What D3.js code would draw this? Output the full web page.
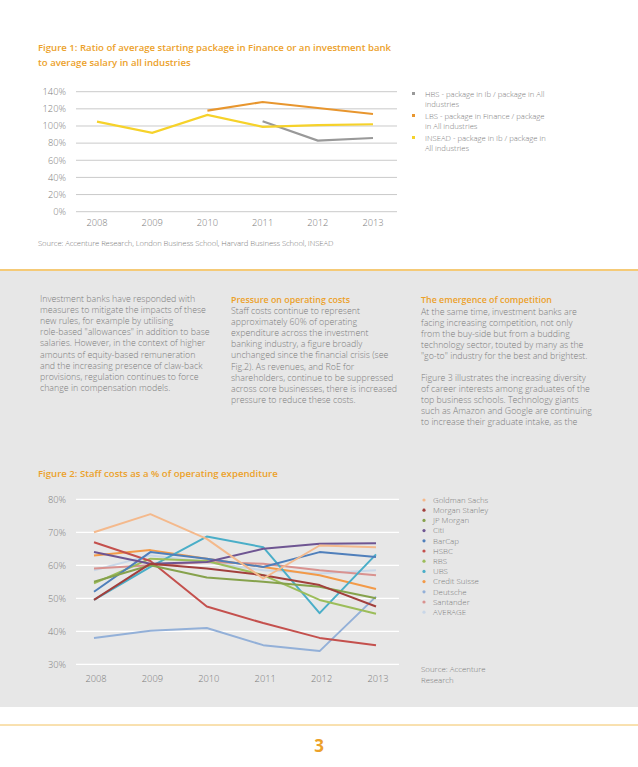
<!DOCTYPE html>
<html>
<head>
<meta charset="utf-8">
<script src="https://cdn.jsdelivr.net/npm/d3@7"></script>
<style>
  body { margin: 0; background: #fff; }
  svg { display: block; font-family: 'Open Sans', sans-serif; }
</style>
</head>
<body>
<script>
// figure 1 data
const years = [2008, 2009, 2010, 2011, 2012, 2013]
const fig1Ticks = [0, 20, 40, 60, 80, 100, 120, 140]
const hbs = [null, null, null, 105.5, 83, 86]
const lbs = [null, null, 118, 128, 121, 114]
const insead = [105, 92, 113, 99, 101, 102]
const fig1Names = ['HBS - package in Ib / package in All|industries',
  'LBS - package in Finance / package|in All industries',
  'INSEAD - package in Ib / package in|All industries']

// figure 2 data
const fig2Ticks = [30, 40, 50, 60, 70, 80]
const banks = ['Goldman Sachs', 'Morgan Stanley', 'JP Morgan', 'Citi', 'BarCap', 'HSBC',
  'RBS', 'UBS', 'Credit Suisse', 'Deutsche', 'Santander', 'AVERAGE']
const goldman = [70, 75.5, 68, 56, 66, 65.5]
const morgan = [49.5, 60.5, 59, 57, 54, 47.5]
const jpm = [55, 60, 56.3, 55, 53.5, 50]
const citi = [64, 60.5, 61, 65, 66.5, 66.7]
const barcap = [52, 64, 62, 59.5, 64, 62.5]
const hsbc = [67, 61.3, 47.5, 42.5, 38, 35.8]
const rbs = [54.5, 62, 61.3, 57, 49.5, 45.3]
const ubs = [49.5, 59.5, 68.7, 65.5, 45.5, 63.3]
const cs = [63, 64.6, 62, 59.5, 57, 52.8]
const deutsche = [38, 40.2, 41, 35.8, 34, 50.5]
const santander = [59, 60, 61, 60.5, 58.5, 57]
const average = [58.5, 63, 61, 58.5, 57.5, 58.5]

const orange = '#eca12a'
const textGray = '#7c7c7c'

const svg = d3.select('body').append('svg')
  .attr('width', 638).attr('height', 767)

// page backgrounds
svg.append('rect').attr('x', 0).attr('y', 271).attr('width', 638).attr('height', 436).attr('fill', '#e7e7e7')
svg.append('line').attr('x1', 0).attr('x2', 638).attr('y1', 270).attr('y2', 270)
  .attr('stroke', '#f2b84a').attr('stroke-width', 1.5)
svg.append('line').attr('x1', 0).attr('x2', 638).attr('y1', 725).attr('y2', 725)
  .attr('stroke', '#f2c260').attr('stroke-width', 1)
svg.append('text').attr('x', 319).attr('y', 752).attr('text-anchor', 'middle')
  .attr('font-size', 17).attr('font-weight', 700).attr('fill', orange).text('3')

function multiline(x, y, lines, step, opts) {
  const t = svg.append('text').attr('x', x).attr('y', y)
    .attr('font-size', opts.size).attr('fill', opts.color || textGray)
    .attr('font-weight', opts.weight || 300)
  lines.forEach((l, i) => {
    t.append('tspan').attr('x', x).attr('y', y + i * step).text(l)
  })
  return t
}

// ---------- figure 1 ----------
multiline(38, 51, ['Figure 1: Ratio of average starting package in Finance or an investment bank',
  'to average salary in all industries'], 14.5, {size: 9.6, color: orange, weight: 600})

const x1 = d3.scalePoint().domain(years).range([97, 373])
const y1 = d3.scaleLinear().domain([0, 140]).range([211.7, 91.7])

const g1 = svg.append('g')
g1.selectAll('line.grid').data(fig1Ticks).enter().append('line')
  .attr('x1', 76).attr('x2', 397)
  .attr('y1', d => y1(d)).attr('y2', d => y1(d))
  .attr('stroke', '#bdbdbd').attr('stroke-width', 0.8)
g1.selectAll('text.yl').data(fig1Ticks).enter().append('text')
  .attr('x', 66).attr('y', d => y1(d) + 3.3).attr('text-anchor', 'end')
  .attr('font-size', 9.3).attr('font-weight', 300).attr('fill', textGray).text(d => d + '%')
g1.selectAll('text.xl').data(years).enter().append('text')
  .attr('x', d => x1(d)).attr('y', 226).attr('text-anchor', 'middle')
  .attr('font-size', 9.3).attr('font-weight', 300).attr('fill', textGray).text(d => d)

const line1 = d3.line().defined(d => d != null)
  .x((d, i) => x1(years[i])).y(d => y1(d))
const fig1Series = [
  {vals: hbs, color: '#999999'},
  {vals: lbs, color: '#e8962e'},
  {vals: insead, color: '#f6d22a'}
]
fig1Series.forEach(s => {
  g1.append('path').attr('d', line1(s.vals)).attr('fill', 'none')
    .attr('stroke', s.color).attr('stroke-width', 2.2)
})

fig1Series.forEach((s, i) => {
  svg.append('rect').attr('x', 412).attr('y', 92 + i * 22).attr('width', 3).attr('height', 3).attr('fill', s.color)
  multiline(425, 96.5 + i * 22, fig1Names[i].split('|'), 10.7, {size: 7.7})
})

svg.append('text').attr('x', 38).attr('y', 246).attr('font-size', 7.7).attr('font-weight', 300)
  .attr('fill', textGray).attr('letter-spacing', -0.1)
  .text('Source: Accenture Research, London Business School, Harvard Business School, INSEAD')

// ---------- text columns ----------
const bodySize = 8.8
const step = 11.1
multiline(40, 302, ['Investment banks have responded with',
  'measures to mitigate the impacts of these',
  'new rules, for example by utilising',
  'role-based "allowances" in addition to base',
  'salaries. However, in the context of higher',
  'amounts of equity-based remuneration',
  'and the increasing presence of claw-back',
  'provisions, regulation continues to force',
  'change in compensation models.'], step, {size: bodySize})

multiline(231, 303, ['Pressure on operating costs'], step, {size: 8.9, color: orange, weight: 600})
multiline(231, 314, ['Staff costs continue to represent',
  'approximately 60% of operating',
  'expenditure across the investment',
  'banking industry, a figure broadly',
  'unchanged since the financial crisis (see',
  'Fig.2). As revenues, and RoE for',
  'shareholders, continue to be suppressed',
  'across core businesses, there is increased',
  'pressure to reduce these costs.'], step, {size: bodySize})

multiline(421, 303, ['The emergence of competition'], step, {size: 8.9, color: orange, weight: 600})
multiline(421, 315, ['At the same time, investment banks are',
  'facing increasing competition, not only',
  'from the buy-side but from a budding',
  'technology sector, touted by many as the',
  '"go-to" industry for the best and brightest.'], step, {size: bodySize})
multiline(421, 381, ['Figure 3 illustrates the increasing diversity',
  'of career interests among graduates of the',
  'top business schools. Technology giants',
  'such as Amazon and Google are continuing',
  'to increase their graduate intake, as the'], step, {size: bodySize})

// ---------- figure 2 ----------
svg.append('text').attr('x', 38).attr('y', 477).attr('font-size', 9.6)
  .attr('font-weight', 600).attr('fill', orange)
  .text('Figure 2: Staff costs as a % of operating expenditure')

const x2 = d3.scalePoint().domain(years).range([94, 376])
const y2 = d3.scaleLinear().domain([30, 80]).range([664.3, 499.3])

const g2 = svg.append('g')
g2.selectAll('line.grid').data(fig2Ticks).enter().append('line')
  .attr('x1', 76).attr('x2', 399)
  .attr('y1', d => y2(d)).attr('y2', d => y2(d))
  .attr('stroke', '#ffffff').attr('stroke-width', 1.2)
g2.selectAll('text.yl').data(fig2Ticks).enter().append('text')
  .attr('x', 66).attr('y', d => y2(d) + 3.3).attr('text-anchor', 'end')
  .attr('font-size', 9.3).attr('font-weight', 300).attr('fill', textGray).text(d => d + '%')
g2.selectAll('text.xl').data(years).enter().append('text')
  .attr('x', d => x2(d) + 2).attr('y', 682).attr('text-anchor', 'middle')
  .attr('font-size', 9.3).attr('font-weight', 300).attr('fill', textGray).text(d => d)

const fig2Vals = [goldman, morgan, jpm, citi, barcap, hsbc, rbs, ubs, cs, deutsche, santander, average]
const fig2Colors = ['#f4b98c', '#a23f3c', '#86a24c', '#6e5592', '#4f7fbb', '#c4504d',
  '#9cbd5a', '#4aaec8', '#f39a48', '#93b0d8', '#d9928f', '#c9d7e8']
const line2 = d3.line().x((d, i) => x2(years[i])).y(d => y2(d))

// draw back to front so the first series sit on top similar to the reference
const order = [11, 10, 9, 8, 7, 6, 5, 4, 3, 2, 1, 0]
order.forEach(i => {
  g2.append('path').attr('d', line2(fig2Vals[i])).attr('fill', 'none')
    .attr('stroke', fig2Colors[i]).attr('stroke-width', 2)
    .attr('stroke-linejoin', 'round')
})

banks.forEach((b, i) => {
  const yy = 500 + i * 10.2
  svg.append('circle').attr('cx', 424).attr('cy', yy).attr('r', 1.6).attr('fill', fig2Colors[i])
  svg.append('text').attr('x', 433).attr('y', yy + 2.8).attr('font-size', 7.9)
    .attr('font-weight', 300).attr('fill', textGray).text(b)
})
multiline(421, 672, ['Source: Accenture', 'Research'], 10.7, {size: 7.9})
</script>
</body>
</html>
